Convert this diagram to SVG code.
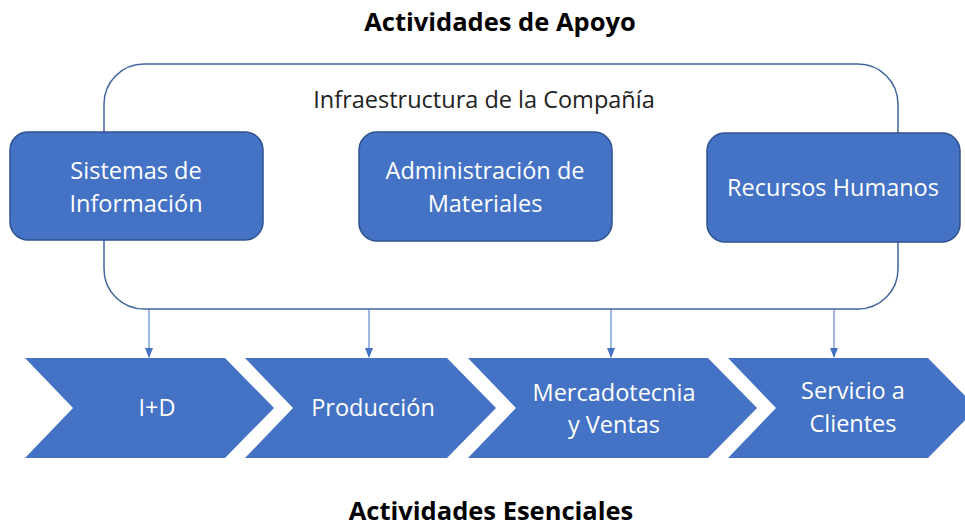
<svg xmlns="http://www.w3.org/2000/svg" width="965" height="527" viewBox="0 0 965 527">
<style>
.t{font-family:"Open Sans","Noto Sans",sans-serif;font-size:23.5px;text-anchor:middle}
.h{font-family:"Open Sans","Noto Sans",sans-serif;font-size:25.5px;font-weight:bold;text-anchor:middle;fill:#000}
.w{fill:#fff}
.box{fill:#4472C4;stroke:#2F528F;stroke-width:1.5}
.chev{fill:#4472C4}
.con{stroke:#4472C4;stroke-width:1;fill:none}
</style>
<defs>
<marker id="arr" markerWidth="10" markerHeight="8" refX="9" refY="4" orient="auto" markerUnits="userSpaceOnUse">
<path d="M0,0 L10,4 L0,8 Z" fill="#4472C4"/>
</marker>
</defs>
<rect width="965" height="527" fill="#fff"/>
<text class="h" x="500" y="31">Actividades de Apoyo</text>
<g id="infraestructura">
<rect x="104" y="64" width="794" height="245" rx="40" ry="40" fill="none" stroke="#41669E" stroke-width="1.5"/>
<text class="t" x="484" y="108" fill="#222">Infraestructura de la Compañía</text>
</g>
<g id="sistemas">
<rect class="box" x="10" y="132" width="253" height="108" rx="18"/>
<text class="t w" x="136" y="179">Sistemas de</text>
<text class="t w" x="136" y="212">Información</text>
</g>
<g id="materiales">
<rect class="box" x="359" y="132" width="253" height="109" rx="18"/>
<text class="t w" x="485" y="179">Administración de</text>
<text class="t w" x="485" y="212">Materiales</text>
</g>
<g id="rrhh">
<rect class="box" x="707" y="133" width="253" height="109" rx="18"/>
<text class="t w" x="833" y="196">Recursos Humanos</text>
</g>
<g id="connectors">
<line class="con" x1="149" y1="309" x2="149" y2="357" marker-end="url(#arr)"/>
<line class="con" x1="369" y1="309" x2="369" y2="357" marker-end="url(#arr)"/>
<line class="con" x1="611" y1="309" x2="611" y2="357" marker-end="url(#arr)"/>
<line class="con" x1="834" y1="309" x2="834" y2="357" marker-end="url(#arr)"/>
</g>
<g id="id">
<polygon class="chev" points="25,358 225,358 274,408 225,458 25,458 73,408"/>
<text class="t w" x="157" y="416">I+D</text>
</g>
<g id="produccion">
<polygon class="chev" points="245,358 447,358 496,408 447,458 245,458 293,408"/>
<text class="t w" x="373" y="416">Producción</text>
</g>
<g id="mercadotecnia">
<polygon class="chev" points="468,358 708,358 757,408 708,458 468,458 516,408"/>
<text class="t w" x="614" y="401">Mercadotecnia</text>
<text class="t w" x="614" y="433">y Ventas</text>
</g>
<g id="servicio">
<polygon class="chev" points="728,358 928,358 977,408 928,458 728,458 776,408"/>
<text class="t w" x="853" y="399">Servicio a</text>
<text class="t w" x="853" y="432">Clientes</text>
</g>
<text class="h" x="491" y="520">Actividades Esenciales</text>
</svg>
